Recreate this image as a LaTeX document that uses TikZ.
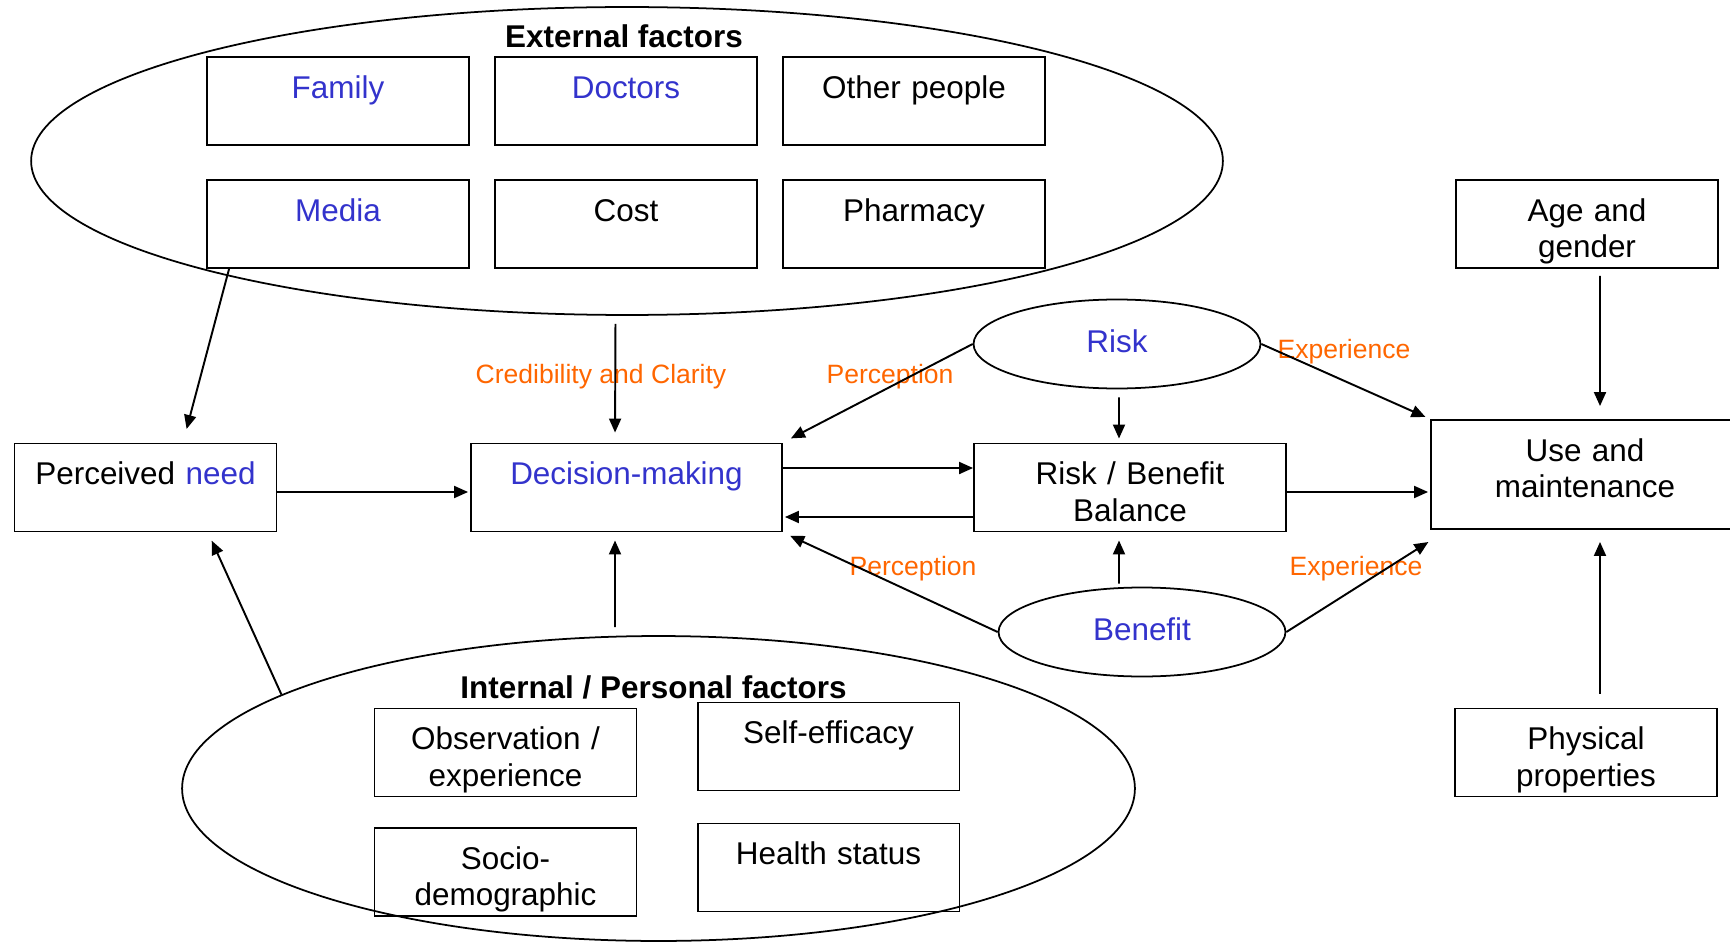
\documentclass[tikz,border=0pt]{standalone}
\usepackage{fontspec}
\setmainfont{Liberation Sans}
\usetikzlibrary{shapes.geometric,arrows.meta}
\definecolor{tblue}{RGB}{51,51,204}
\definecolor{torange}{RGB}{255,102,0}

\begin{document}
\begin{tikzpicture}[x=0.02cm, y=-0.02cm,
		every node/.style={font=\fontsize{17.9}{21}\selectfont},
		text_style/.style={anchor=base, yshift=-0.84cm, align=center, text width=5cm, inner sep=0pt},
		box_style/.style={draw=black, line width=1.1pt, minimum width=5.24cm, minimum height=1.76cm, inner sep=0pt, label={[text_style]north:#1}},
		oval_style/.style={ellipse, draw=black, line width=1pt, inner sep=0pt},
		title_style/.style={anchor=base, font=\fontsize{17.9}{21}\selectfont\bfseries},
		note_style/.style={anchor=base, text=torange, font=\fontsize{15.1}{18}\selectfont},
		edge_style/.style={draw=black, line width=1.1pt, -{Triangle[length=0.28cm, width=0.24cm]}}]
		
		\useasboundingbox (0,0) rectangle (1730,942);
		\clip (0,0) rectangle (1730,942);
		
		% external factors
		\node[oval_style, minimum width=23.84cm, minimum height=6.16cm] (ext) at (627,161) {};
		\node[title_style] (ext_t) at (624,48) {External factors};
		\node[box_style=\textcolor{tblue}{Family}] (family) at (338,101) {};
		\node[box_style=\textcolor{tblue}{Doctors}] (doctors) at (626,101) {};
		\node[box_style={Other people}] (others) at (914,101) {};
		\node[box_style=\textcolor{tblue}{Media}] (media) at (338,224) {};
		\node[box_style=Cost] (cost) at (626,224) {};
		\node[box_style=Pharmacy] (pharmacy) at (914,224) {};
		
		% internal / personal factors
		\node[oval_style, minimum width=19.06cm, minimum height=6.1cm] (int) at (658.5,788.5) {};
		\node[title_style] (int_t) at (653.5,698) {Internal / Personal factors};
		\node[box_style={Observation /\\experience}] (observation) at (505.5,752.5) {};
		\node[box_style=Self-efficacy] (selfeff) at (828.5,746.5) {};
		\node[box_style={Socio-\\demographic}] (socio) at (505.5,872) {};
		\node[box_style={Health status}] (health) at (828.5,867.5) {};
		
		% main chain
		\node[box_style={Perceived \textcolor{tblue}{need}}] (need) at (145.5,487.5) {};
		\node[box_style=\textcolor{tblue}{Decision-making}, minimum width=6.22cm] (decision) at (626.5,487.5) {};
		\node[box_style={Risk / Benefit\\Balance}, minimum width=6.24cm] (balance) at (1130,487.5) {};
		\node[box_style={Use and\\maintenance}, minimum width=6.16cm, minimum height=2.18cm] (use) at (1585,474.5) {};
		\node[box_style={Age and\\gender}] (age) at (1587,224) {};
		\node[box_style={Physical\\properties}] (physical) at (1586,752.5) {};
		
		\node[oval_style, minimum width=5.74cm, minimum height=1.78cm, text height=0.454cm, text depth=0.126cm, text=tblue] (risk) at (1117,344) {Risk};
		\node[oval_style, minimum width=5.74cm, minimum height=1.78cm, text height=0.454cm, text depth=0.126cm, text=tblue] (benefit) at (1142,632) {Benefit};
		
		% arrow labels
		\node[note_style] (cred) at (601,383) {Credibility and Clarity};
		\node[note_style] (perc_a) at (890,383) {Perception};
		\node[note_style] (perc_b) at (913,575) {Perception};
		\node[note_style] (exp_a) at (1344,358) {Experience};
		\node[note_style] (exp_b) at (1356,575) {Experience};
		
		% into need and decision-making
		\draw[edge_style, shorten >=0.28cm] ([xshift=0.46cm]media.south west) -- ([xshift=0.75cm]need.north);
		\draw[edge_style, shorten <=0.16cm, shorten >=0.2cm] ([xshift=-0.23cm]ext.south) -- ([xshift=-0.23cm]decision.north);
		\draw[edge_style, shorten <=0.16cm, shorten >=0.16cm] ([xshift=-0.87cm]int.north) -- ([xshift=-0.23cm]decision.south);
		\draw[edge_style, shorten >=0.18cm] (int.166) -- ([xshift=1.25cm]need.south);
		\draw[edge_style, shorten >=0.04cm] ([yshift=-0.09cm]need.east) -- ([yshift=-0.09cm]decision.west);
		\draw[edge_style] ([yshift=0.39cm]decision.east) -- ([yshift=0.39cm]balance.west);
		\draw[edge_style, shorten >=0.04cm] ([yshift=-0.59cm]balance.west) -- ([yshift=-0.59cm]decision.east);
		
		% risk and benefit
		\draw[edge_style, shorten >=0.18cm] (risk.west) -- (decision.north east);
		\draw[edge_style, shorten >=0.16cm] (benefit.west) -- (decision.south east);
		\draw[edge_style, shorten <=0.16cm, shorten >=0.08cm] ([xshift=0.04cm]risk.south) -- ([xshift=-0.22cm]balance.north);
		\draw[edge_style, shorten <=0.06cm, shorten >=0.16cm] ([xshift=-0.46cm]benefit.north) -- ([xshift=-0.22cm]balance.south);
		\draw[edge_style, shorten >=0.1cm] (risk.east) -- (use.north west);
		\draw[edge_style, shorten >=0.04cm] (benefit.east) -- ([yshift=-0.22cm]use.south west);
		\draw[edge_style, shorten >=0.04cm] ([yshift=-0.09cm]balance.east) -- ([yshift=-0.35cm]use.west);
		
		% into use and maintenance
		\draw[edge_style, shorten <=0.14cm, shorten >=0.26cm] ([xshift=0.26cm]age.south) -- ([xshift=0.3cm]use.north);
		\draw[edge_style, shorten <=0.28cm, shorten >=0.24cm] ([xshift=0.28cm]physical.north) -- ([xshift=0.3cm]use.south);
		
		\end{tikzpicture}
\end{document}
